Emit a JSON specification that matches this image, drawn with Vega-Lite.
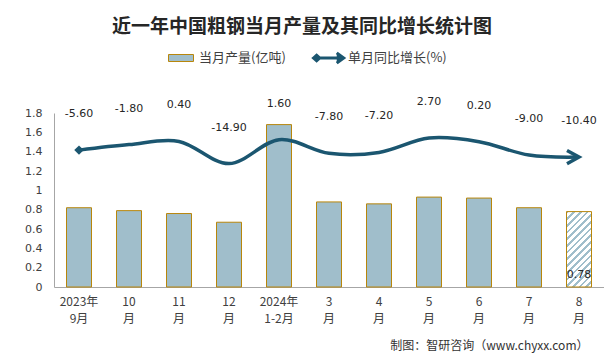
{
  "$schema": "https://vega.github.io/schema/vega-lite/v6.json",
  "width": 550,
  "height": 174,
  "autosize": {"type": "none"},
  "padding": {"left": 54, "top": 113, "right": 0, "bottom": 70},
  "background": "#ffffff",
  "config": {
    "view": {"stroke": null},
    "font": "Noto Sans CJK SC"
  },
  "title": {
    "text": "近一年中国粗钢当月产量及其同比增长统计图",
    "font": "Noto Sans CJK SC",
    "fontSize": 19,
    "fontWeight": "bold",
    "color": "#262626",
    "anchor": "middle",
    "frame": "group",
    "dx": -27,
    "offset": 4
  },
  "data": {
    "values": [
      {"month": "2023年9月", "output": 0.82, "growth": -5.6},
      {"month": "10月", "output": 0.79, "growth": -1.8},
      {"month": "11月", "output": 0.76, "growth": 0.4},
      {"month": "12月", "output": 0.67, "growth": -14.9},
      {"month": "2024年1-2月", "output": 1.68, "growth": 1.6},
      {"month": "3月", "output": 0.88, "growth": -7.8},
      {"month": "4月", "output": 0.86, "growth": -7.2},
      {"month": "5月", "output": 0.93, "growth": 2.7},
      {"month": "6月", "output": 0.92, "growth": 0.2},
      {"month": "7月", "output": 0.82, "growth": -9.0},
      {"month": "8月", "output": 0.78, "growth": -10.4}
    ]
  },
  "encoding": {
    "x": {
      "field": "month",
      "type": "nominal",
      "sort": null,
      "scale": {
        "domain": ["2023年9月", "10月", "11月", "12月", "2024年1-2月", "3月", "4月", "5月", "6月", "7月", "8月"],
        "paddingInner": 0.5,
        "paddingOuter": 0.25
      },
      "axis": {
        "labelAngle": 0,
        "labelExpr": "indexof(datum.value,'年')>0 ? [slice(datum.value,0,indexof(datum.value,'年')+1), slice(datum.value,indexof(datum.value,'年')+1)] : [slice(datum.value,0,-1),'月']",
        "labelFont": "Noto Sans CJK SC",
        "labelFontSize": 12,
        "labelColor": "#404040",
        "labelLineHeight": 17,
        "labelBaseline": "top",
        "labelPadding": 9,
        "ticks": false,
        "domainColor": "#A6A6A6",
        "domainWidth": 1,
        "grid": false,
        "title": "制图：智研咨询（www.chyxx.com）",
        "titleFont": "Noto Sans CJK SC",
        "titleFontSize": 12,
        "titleFontWeight": "normal",
        "titleColor": "#333333",
        "titleAnchor": null,
        "titleAlign": "right",
        "titleBaseline": "middle",
        "titleX": 534,
        "titleY": 58
      }
    }
  },
  "layer": [
    {
      "mark": {"type": "bar", "stroke": "#B8860B", "strokeWidth": 1},
      "encoding": {
        "y": {
          "field": "output",
          "type": "quantitative",
          "scale": {"domain": [0, 1.8], "nice": false, "zero": true},
          "axis": {
            "values": [0, 0.2, 0.4, 0.6, 0.8, 1, 1.2, 1.4, 1.6, 1.8],
            "format": "~g",
            "labelFont": "DejaVu Sans",
            "labelFontSize": 11,
            "labelColor": "#404040",
            "labelPadding": 12,
            "ticks": false,
            "grid": false,
            "domainColor": "#A6A6A6",
            "title": null
          }
        },
        "fill": {
          "condition": {
            "test": "datum.month === '8月'",
            "value": {
              "gradient": "linear",
              "x1": 0, "y1": 0, "x2": 0.398, "y2": 1.2,
              "stops": [
                {"offset": 0, "color": "#A0BECB"}, {"offset": 0.0267, "color": "#A0BECB"}, {"offset": 0.0267, "color": "#FFFFFF"}, {"offset": 0.0667, "color": "#FFFFFF"},
                {"offset": 0.0667, "color": "#A0BECB"}, {"offset": 0.0933, "color": "#A0BECB"}, {"offset": 0.0933, "color": "#FFFFFF"}, {"offset": 0.1333, "color": "#FFFFFF"},
                {"offset": 0.1333, "color": "#A0BECB"}, {"offset": 0.16, "color": "#A0BECB"}, {"offset": 0.16, "color": "#FFFFFF"}, {"offset": 0.2, "color": "#FFFFFF"},
                {"offset": 0.2, "color": "#A0BECB"}, {"offset": 0.2267, "color": "#A0BECB"}, {"offset": 0.2267, "color": "#FFFFFF"}, {"offset": 0.2667, "color": "#FFFFFF"},
                {"offset": 0.2667, "color": "#A0BECB"}, {"offset": 0.2933, "color": "#A0BECB"}, {"offset": 0.2933, "color": "#FFFFFF"}, {"offset": 0.3333, "color": "#FFFFFF"},
                {"offset": 0.3333, "color": "#A0BECB"}, {"offset": 0.36, "color": "#A0BECB"}, {"offset": 0.36, "color": "#FFFFFF"}, {"offset": 0.4, "color": "#FFFFFF"},
                {"offset": 0.4, "color": "#A0BECB"}, {"offset": 0.4267, "color": "#A0BECB"}, {"offset": 0.4267, "color": "#FFFFFF"}, {"offset": 0.4667, "color": "#FFFFFF"},
                {"offset": 0.4667, "color": "#A0BECB"}, {"offset": 0.4933, "color": "#A0BECB"}, {"offset": 0.4933, "color": "#FFFFFF"}, {"offset": 0.5333, "color": "#FFFFFF"},
                {"offset": 0.5333, "color": "#A0BECB"}, {"offset": 0.56, "color": "#A0BECB"}, {"offset": 0.56, "color": "#FFFFFF"}, {"offset": 0.6, "color": "#FFFFFF"},
                {"offset": 0.6, "color": "#A0BECB"}, {"offset": 0.6267, "color": "#A0BECB"}, {"offset": 0.6267, "color": "#FFFFFF"}, {"offset": 0.6667, "color": "#FFFFFF"},
                {"offset": 0.6667, "color": "#A0BECB"}, {"offset": 0.6933, "color": "#A0BECB"}, {"offset": 0.6933, "color": "#FFFFFF"}, {"offset": 0.7333, "color": "#FFFFFF"},
                {"offset": 0.7333, "color": "#A0BECB"}, {"offset": 0.76, "color": "#A0BECB"}, {"offset": 0.76, "color": "#FFFFFF"}, {"offset": 0.8, "color": "#FFFFFF"},
                {"offset": 0.8, "color": "#A0BECB"}, {"offset": 0.8267, "color": "#A0BECB"}, {"offset": 0.8267, "color": "#FFFFFF"}, {"offset": 0.8667, "color": "#FFFFFF"},
                {"offset": 0.8667, "color": "#A0BECB"}, {"offset": 0.8933, "color": "#A0BECB"}, {"offset": 0.8933, "color": "#FFFFFF"}, {"offset": 0.9333, "color": "#FFFFFF"},
                {"offset": 0.9333, "color": "#A0BECB"}, {"offset": 0.96, "color": "#A0BECB"}, {"offset": 0.96, "color": "#FFFFFF"}, {"offset": 1, "color": "#FFFFFF"}
              ]
            }
          },
          "datum": "当月产量(亿吨)",
          "type": "nominal",
          "scale": {"range": ["#A0BECB"]},
          "legend": {
            "orient": "none",
            "legendX": 114,
            "legendY": -68,
            "title": null,
            "padding": 0,
            "symbolType": "M-1,-0.28H1V0.28H-1Z",
            "symbolSize": 625,
            "symbolStrokeColor": "#B8860B",
            "symbolStrokeWidth": 1,
            "labelFont": "Noto Sans CJK SC",
            "labelFontSize": 13,
            "labelColor": "#404040",
            "labelOffset": 5
          }
        }
      }
    },
    {
      "transform": [{"filter": "datum.month === '8月'"}],
      "mark": {"type": "text", "font": "DejaVu Sans", "fontSize": 11, "color": "#262626", "baseline": "middle", "dy": -12},
      "encoding": {
        "y": {"datum": 0, "type": "quantitative", "scale": {"domain": [0, 1.8], "nice": false}, "axis": null},
        "text": {"field": "output", "type": "quantitative", "format": ".2f"}
      }
    },
    {
      "mark": {"type": "line", "interpolate": "cardinal", "strokeWidth": 3.5},
      "encoding": {
        "y": {"field": "growth", "type": "quantitative", "scale": {"domain": [-100, 20], "nice": false, "zero": false}, "axis": null},
        "stroke": {
          "datum": "单月同比增长(%)",
          "type": "nominal",
          "scale": {"range": ["#1B5670"]},
          "legend": {
            "orient": "none",
            "legendX": 258,
            "legendY": -72,
            "title": null,
            "padding": 0,
            "symbolType": "M-0.85,0H0.92M0.5,-0.33L0.95,0L0.5,0.33M-1,0L-0.8,-0.18L-0.6,0L-0.8,0.18Z",
            "symbolSize": 961,
            "symbolStrokeWidth": 3,
            "symbolFillColor": "#1B5670",
            "labelFont": "Noto Sans CJK SC",
            "labelFontSize": 13,
            "labelColor": "#404040",
            "labelOffset": 2
          }
        }
      }
    },
    {
      "transform": [{"filter": "datum.month === '2023年9月'"}],
      "mark": {"type": "point", "shape": "diamond", "filled": true, "size": 90, "color": "#1B5670", "opacity": 1},
      "encoding": {
        "y": {"field": "growth", "type": "quantitative", "scale": {"domain": [-100, 20], "nice": false, "zero": false}, "axis": null}
      }
    },
    {
      "transform": [{"filter": "datum.month === '8月'"}],
      "mark": {"type": "point", "shape": "M-1,-0.55L0,0L-1,0.55", "filled": false, "size": 576, "stroke": "#1B5670", "strokeWidth": 3.5, "opacity": 1},
      "encoding": {
        "y": {"field": "growth", "type": "quantitative", "scale": {"domain": [-100, 20], "nice": false, "zero": false}, "axis": null}
      }
    },
    {
      "mark": {
        "type": "text",
        "font": "DejaVu Sans",
        "fontSize": 11,
        "color": "#262626",
        "baseline": "middle",
        "dy": -36,
        "text": {"expr": "replace(format(datum.growth, '.2f'), '\u2212', '-')"}
      },
      "encoding": {
        "y": {"field": "growth", "type": "quantitative", "scale": {"domain": [-100, 20], "nice": false, "zero": false}, "axis": null}
      }
    }
  ],
  "resolve": {"scale": {"y": "independent"}}
}
